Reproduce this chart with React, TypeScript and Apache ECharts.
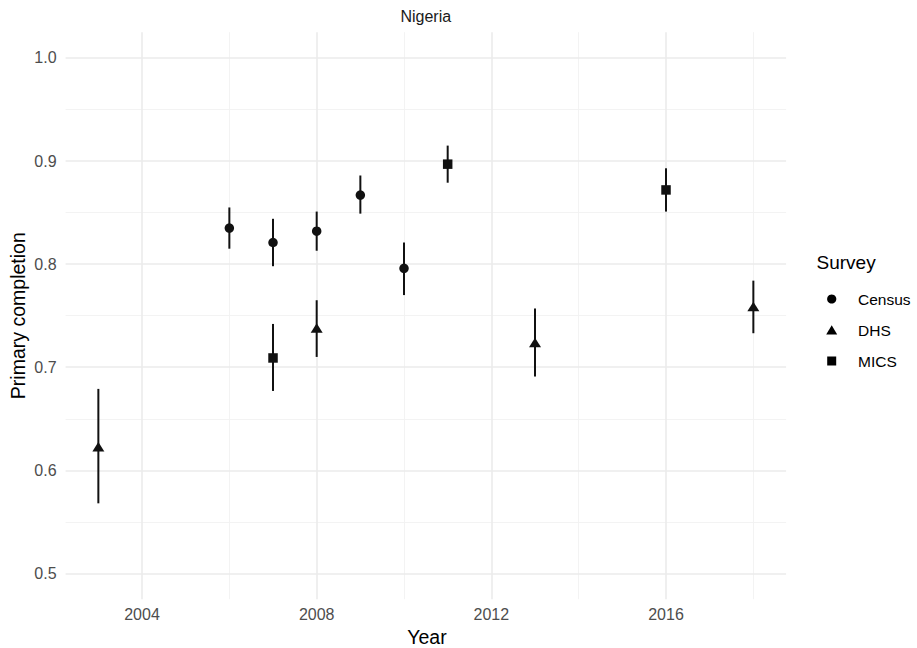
import React, { useEffect, useRef } from "react";
import * as echarts from "echarts";

const facetTitle = "Nigeria";
const xTitle = "Year";
const yTitle = "Primary completion";
const legendTitle = "Survey";
const surveyNames = ["Census", "DHS", "MICS"];
const surveySymbols = ["circle", "triangle", "rect"];

const censusYears = [2006, 2007, 2008, 2009, 2010];
const censusValues = [0.835, 0.821, 0.832, 0.867, 0.796];
const censusLow = [0.815, 0.798, 0.813, 0.849, 0.770];
const censusHigh = [0.855, 0.844, 0.851, 0.886, 0.821];

const dhsYears = [2003, 2008, 2013, 2018];
const dhsValues = [0.623, 0.738, 0.724, 0.759];
const dhsLow = [0.568, 0.710, 0.691, 0.733];
const dhsHigh = [0.679, 0.765, 0.757, 0.784];

const micsYears = [2007, 2011, 2016];
const micsValues = [0.709, 0.897, 0.872];
const micsLow = [0.677, 0.879, 0.851];
const micsHigh = [0.742, 0.915, 0.893];

const xTicks = [2004, 2008, 2012, 2016];
const xMinorTicks = [2006, 2010, 2014, 2018];
const yTicks = [0.5, 0.6, 0.7, 0.8, 0.9, 1.0];
const yMinorTicks = [0.55, 0.65, 0.75, 0.85, 0.95];
const xDomain = [2002.25, 2018.75];
const yDomain = [0.475, 1.025];

const FONT = "'Liberation Sans', Arial, Helvetica, sans-serif";

export default function App() {
  const ref = useRef<HTMLDivElement>(null);
  useEffect(() => {
    document.body.style.margin = "0";
    if (!ref.current) return;
    const chart = echarts.init(ref.current, null, { renderer: "svg" });

    const groups = [
      { years: censusYears, values: censusValues, low: censusLow, high: censusHigh },
      { years: dhsYears, values: dhsValues, low: dhsLow, high: dhsHigh },
      { years: micsYears, values: micsValues, low: micsLow, high: micsHigh },
    ];
    const errData: number[][] = [];
    groups.forEach((g) => g.years.forEach((y, i) => errData.push([y, g.low[i], g.high[i]])));

    const major = { color: "#EBEBEB", width: 1.6, type: "solid" };
    const minor = { color: "#F2F2F2", width: 0.9, type: "solid" };
    const gridLines = [
      ...xMinorTicks.map((v) => ({ xAxis: v, lineStyle: minor })),
      ...yMinorTicks.map((v) => ({ yAxis: v, lineStyle: minor })),
      ...xTicks.map((v) => ({ xAxis: v, lineStyle: major })),
      ...yTicks.map((v) => ({ yAxis: v, lineStyle: major })),
    ];

    const symbolSizes: any[] = [9.5, [12, 9.5], 9.5];

    const legendYs = [299, 330, 361];
    const legendGraphics: any[] = [
      {
        type: "text", left: 816.5, top: 263.3 - 10,
        style: { text: legendTitle, font: `19px ${FONT}`, fill: "#000" },
      },
      { type: "circle", shape: { cx: 831.7, cy: legendYs[0], r: 4.6 }, style: { fill: "#000" } },
      {
        type: "polygon",
        shape: { points: [[826.2, legendYs[1] + 4.6], [837.2, legendYs[1] + 4.6], [831.7, legendYs[1] - 4.8]] },
        style: { fill: "#000" },
      },
      { type: "rect", shape: { x: 827.2, y: legendYs[2] - 4.5, width: 9, height: 9 }, style: { fill: "#000" } },
      ...surveyNames.map((n, i) => ({
        type: "text", x: 858, y: legendYs[i],
        style: { text: n, font: `15.5px ${FONT}`, fill: "#000", verticalAlign: "middle", align: "left" },
      })),
      {
        type: "text", x: 425.8, y: 16.7,
        style: { text: facetTitle, font: `16px ${FONT}`, fill: "#1A1A1A", align: "center", verticalAlign: "middle" },
      },
      {
        type: "text", x: 427, y: 636.5,
        style: { text: xTitle, font: `19.5px ${FONT}`, fill: "#000", align: "center", verticalAlign: "middle" },
      },
      {
        type: "text", x: 18, y: 315.7, rotation: Math.PI / 2,
        style: { text: yTitle, font: `19.5px ${FONT}`, fill: "#000", align: "center", verticalAlign: "middle" },
      },
    ];

    chart.setOption({
      animation: false,
      backgroundColor: "#fff",
      grid: { left: 65.6, top: 32.2, right: 917 - 786.1, bottom: 648 - 599.2, containLabel: false },
      xAxis: {
        type: "value",
        min: xDomain[0],
        max: xDomain[1],
        axisLine: { show: false },
        axisTick: { show: false },
        splitLine: { show: false },
        axisLabel: {
          customValues: xTicks,
          margin: 7,
          color: "#4D4D4D",
          fontSize: 16,
          fontFamily: FONT,
          formatter: (v: number) => String(Math.round(v)),
        },
      },
      yAxis: {
        type: "value",
        min: yDomain[0],
        max: yDomain[1],
        axisLine: { show: false },
        axisTick: { show: false },
        splitLine: { show: false },
        axisLabel: {
          customValues: yTicks,
          margin: 9,
          color: "#4D4D4D",
          fontSize: 16,
          fontFamily: FONT,
          formatter: (v: number) => v.toFixed(1),
        },
      },
      graphic: legendGraphics,
      series: [
        {
          type: "line",
          name: "grid",
          data: [],
          z: 0,
          silent: true,
          markLine: {
            z: 0,
            silent: true,
            symbol: ["none", "none"],
            label: { show: false },
            emphasis: { disabled: true },
            data: gridLines,
          },
        },
        {
          type: "custom",
          name: "errorbars",
          z: 10,
          silent: true,
          data: errData,
          renderItem: (_p: any, api: any) => {
            const a = api.coord([api.value(0), api.value(1)]);
            const b = api.coord([api.value(0), api.value(2)]);
            return {
              type: "line",
              shape: { x1: a[0], y1: a[1], x2: b[0], y2: b[1] },
              style: { stroke: "#111", lineWidth: 2 },
            };
          },
        },
        ...groups.map((g, i) => ({
          type: "scatter",
          name: surveyNames[i],
          z: 11,
          symbol: surveySymbols[i],
          symbolSize: symbolSizes[i],
          itemStyle: { color: "#111", opacity: 1 },
          data: g.years.map((y, j) => [y, g.values[j]]),
        })),
      ],
    });
    return () => chart.dispose();
  }, []);
  return <div ref={ref} style={{ width: 917, height: 648 }} />;
}
